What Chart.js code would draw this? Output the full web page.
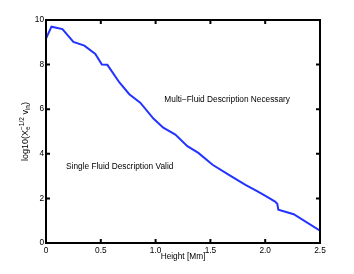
<!DOCTYPE html>
<html>
<head>
<meta charset="utf-8">
<script src="https://cdn.jsdelivr.net/npm/chart.js@4"></script>
<style>
html, body { margin: 0; padding: 0; background: #fff; }
</style>
</head>
<body>
<canvas id="chart" width="354" height="274"></canvas>
<script>
// values
const heights = [0, 0.05, 0.15, 0.25, 0.35, 0.45, 0.51, 0.56, 0.67, 0.76, 0.86, 0.98, 1.07, 1.18, 1.29, 1.39,
    1.52, 1.68, 1.82, 1.93, 2.01, 2.09, 2.11, 2.12, 2.26, 2.5];
const logRatio = [9.17, 9.70, 9.59, 9.02, 8.85, 8.48, 8.0, 7.99, 7.2, 6.67, 6.29, 5.58, 5.17, 4.86, 4.34, 4.04,
    3.51, 3.02, 2.61, 2.31, 2.09, 1.86, 1.76, 1.49, 1.29, 0.55];

const xTicks = [0, 0.5, 1.0, 1.5, 2.0, 2.5];
const xTickLabels = ['0', '0.5', '1.0', '1.5', '2.0', '2.5'];
const yTicks = [0, 2, 4, 6, 8, 10];
const yTickLabels = ['0', '2', '4', '6', '8', '10'];

const notes = ['Multi\u2212Fluid Description Necessary', 'Single Fluid Description Valid'];
const noteX = [1.08, 0.183];
const noteY = [6.44, 3.44];

const FAMILY = '"Liberation Sans", Arial, Helvetica, sans-serif';
const BASE = '8.3px ' + FAMILY;
const TITLE = '9px ' + FAMILY;
const SMALL = '6.5px ' + FAMILY;

const boxPlugin = {
    id: 'matlabBox',
    afterDraw(chart) {
        const ctx = chart.ctx;
        const { left, right, top, bottom } = chart.chartArea;
        const xs = chart.scales.x;
        const ys = chart.scales.y;

        ctx.save();
        ctx.strokeStyle = '#000';
        ctx.lineWidth = 2;
        ctx.strokeRect(left, top, right - left, bottom - top);

        // inward tick marks on all four sides
        ctx.beginPath();
        xTicks.forEach(v => {
            const px = xs.getPixelForValue(v);
            ctx.moveTo(px, bottom); ctx.lineTo(px, bottom - 4);
            ctx.moveTo(px, top); ctx.lineTo(px, top + 4);
        });
        yTicks.forEach(v => {
            const py = ys.getPixelForValue(v);
            ctx.moveTo(left, py); ctx.lineTo(left + 4, py);
            ctx.moveTo(right, py); ctx.lineTo(right - 4, py);
        });
        ctx.stroke();

        // annotations
        ctx.fillStyle = '#000';
        ctx.font = BASE;
        ctx.textAlign = 'left';
        ctx.textBaseline = 'middle';
        notes.forEach((t, i) => {
            ctx.fillText(t, xs.getPixelForValue(noteX[i]), ys.getPixelForValue(noteY[i]));
        });

        // x title
        ctx.textAlign = 'center';
        ctx.fillText('Height [Mm]', (left + right) / 2, 257);

        // y title with sub/superscripts
        ctx.translate(25, (top + bottom) / 2);
        ctx.rotate(-Math.PI / 2);
        ctx.textAlign = 'left';
        ctx.textBaseline = 'alphabetic';
        ctx.font = TITLE;
        const w1 = ctx.measureText('log10(X').width;
        const w3 = ctx.measureText(' v').width;
        const w5 = ctx.measureText(')').width;
        ctx.font = SMALL;
        const we = ctx.measureText('e').width;
        const ws = ctx.measureText('\u22121/2').width;
        const w4 = ctx.measureText('in').width;
        const total = w1 + Math.max(we, ws) + w3 + w4 + w5;
        let x = -total / 2;
        const base = 3;
        ctx.font = TITLE;
        ctx.fillText('log10(X', x, base);
        x += w1;
        ctx.font = SMALL;
        ctx.fillText('e', x, base + 2);
        ctx.fillText('\u22121/2', x, base - 4);
        x += Math.max(we, ws);
        ctx.font = TITLE;
        ctx.fillText(' v', x, base);
        x += w3;
        ctx.font = SMALL;
        ctx.fillText('in', x, base + 2);
        x += w4;
        ctx.font = TITLE;
        ctx.fillText(')', x, base);
        ctx.restore();
    }
};

new Chart(document.getElementById('chart'), {
    type: 'line',
    data: {
        datasets: [{
            data: heights.map((h, i) => ({ x: h, y: logRatio[i] })),
            borderColor: '#2233ff',
            borderWidth: 2,
            pointRadius: 0,
            tension: 0,
            fill: false
        }]
    },
    options: {
        responsive: false,
        animation: false,
        devicePixelRatio: 1,
        layout: { padding: { top: 20, right: 34, left: 0, bottom: 0 } },
        plugins: {
            legend: { display: false },
            tooltip: { enabled: false }
        },
        scales: {
            x: {
                type: 'linear',
                min: 0,
                max: 2.5,
                afterBuildTicks: s => { s.ticks = xTicks.map(v => ({ value: v })); },
                afterFit: s => { s.height = 31; },
                grid: { display: false, drawTicks: false },
                border: { display: false },
                ticks: {
                    callback: (v, i) => xTickLabels[i],
                    color: '#000',
                    font: { family: FAMILY, size: 8.3 },
                    padding: 3,
                    maxRotation: 0,
                    autoSkip: false
                }
            },
            y: {
                min: 0,
                max: 10,
                afterBuildTicks: s => { s.ticks = yTicks.map(v => ({ value: v })); },
                afterFit: s => { s.width = 46; },
                grid: { display: false, drawTicks: false },
                border: { display: false },
                ticks: {
                    callback: (v, i) => yTickLabels[i],
                    color: '#000',
                    font: { family: FAMILY, size: 8.3 },
                    padding: 2,
                    autoSkip: false
                }
            }
        }
    },
    plugins: [boxPlugin]
});
</script>
</body>
</html>
